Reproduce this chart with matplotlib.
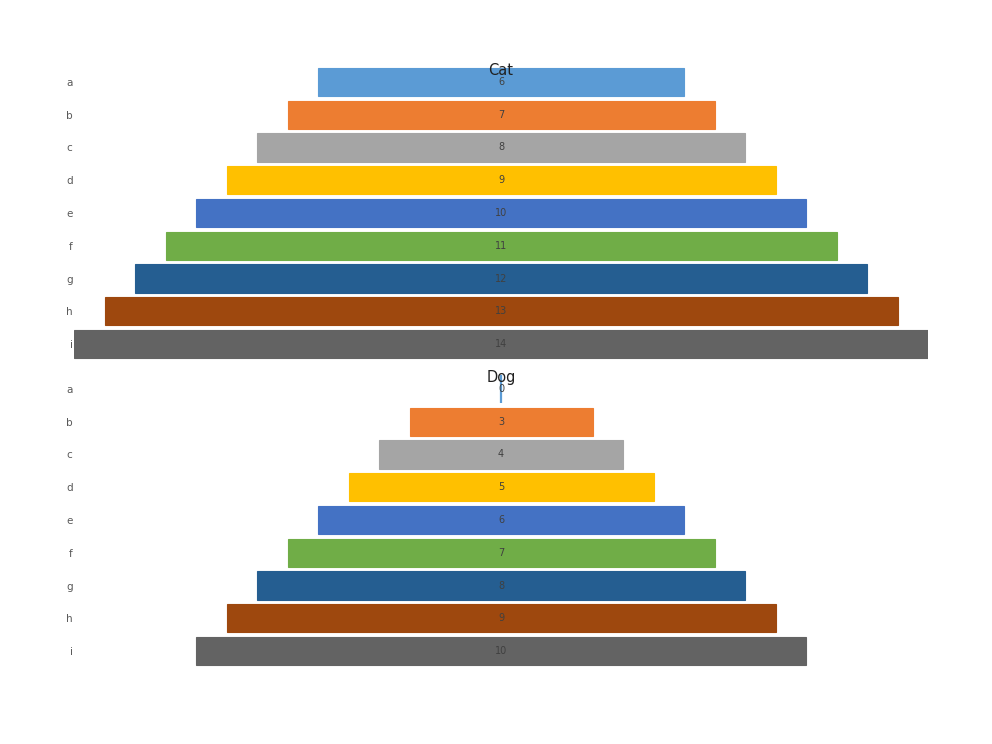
import numpy as np
import matplotlib
matplotlib.use('Agg')
import matplotlib.pyplot as plt

categories = ['a', 'b', 'c', 'd', 'e', 'f', 'g', 'h', 'i']
cat_values = [6, 7, 8, 9, 10, 11, 12, 13, 14]
dog_values = [0, 3, 4, 5, 6, 7, 8, 9, 10]
colors = ['#5B9BD5', '#ED7D31', '#A5A5A5', '#FFC000', '#4472C4',
          '#70AD47', '#255E91', '#9E480E', '#636363']

W, H = 992, 744
fig = plt.figure(figsize=(W / 100, H / 100), dpi=100)

left = 74 / W
width = 854 / W


def funnel(ax, values, title):
    y = np.arange(len(categories))
    vals = np.array(values, dtype=float)
    # zero-width bars still show as a thin line, as in the original
    lws = [1.6 if v == 0 else 0.8 for v in values]
    ax.barh(y, vals, left=-vals / 2, height=0.86, color=colors,
            edgecolor=colors, linewidth=lws)
    for yi, v in zip(y, values):
        ax.text(0, yi, str(v), ha='center', va='center', fontsize=7,
                color='#404040')
    ax.set_xlim(-7, 7)
    ax.set_ylim(len(categories) - 0.5, -0.5)
    ax.set_yticks(y)
    ax.set_yticklabels(categories)
    ax.tick_params(axis='y', length=0, pad=1, labelsize=7.5, labelcolor='#595959')
    ax.set_xticks([])
    for s in ax.spines.values():
        s.set_visible(False)
    ax.text(0.5, 0.985, title, transform=ax.transAxes, ha='center', va='center',
            fontsize=10.5, color='#202020')


ax1 = fig.add_axes([left, 1 - 360.4 / H, width, 294.8 / H])
funnel(ax1, cat_values, 'Cat')
ax2 = fig.add_axes([left, 1 - 667.4 / H, width, 294.8 / H])
funnel(ax2, dog_values, 'Dog')

plt.savefig('out.png', dpi=100)
plt.close()
